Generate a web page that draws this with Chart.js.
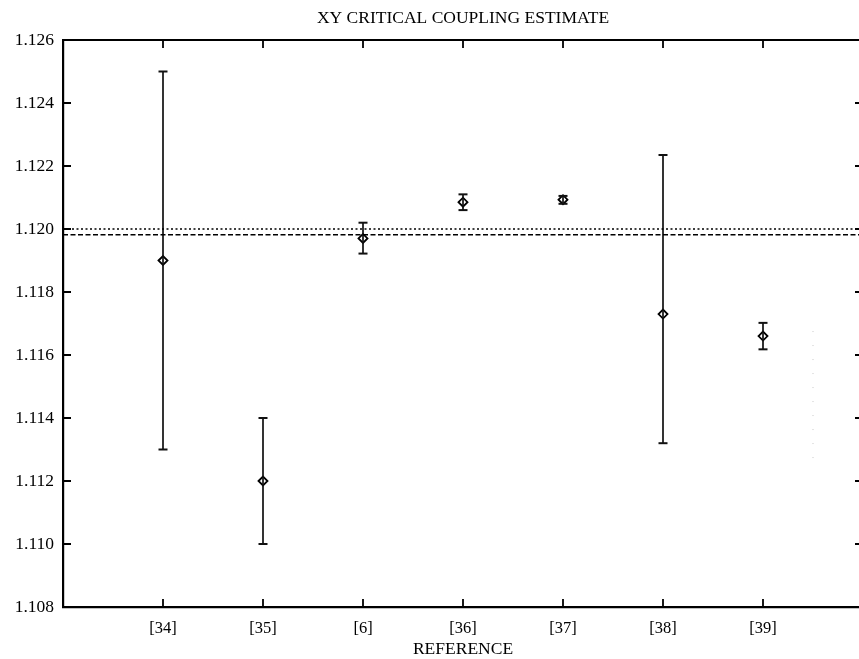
<!DOCTYPE html>
<html>
<head>
<meta charset="utf-8">
<script src="https://cdn.jsdelivr.net/npm/chart.js@4/dist/chart.umd.min.js"></script>
<style>
    html, body { margin: 0; padding: 0; background: #fff; overflow: hidden; }
    #wrap { width: 926px; height: 659px; }
</style>
</head>
<body>
<div id="wrap"><canvas id="chart" width="926" height="659"></canvas></div>
<script>
// references on the x axis (positions 1..7)
const refs = ["[34]", "[35]", "[6]", "[36]", "[37]", "[38]", "[39]"];
const estimate = [1.1190, 1.1120, 1.1197, 1.12085, 1.12093, 1.1173, 1.1166];
const errHigh = [1.1250, 1.1140, 1.1202, 1.1211, 1.12105, 1.12235, 1.11702];
const errLow = [1.1130, 1.1100, 1.11922, 1.1206, 1.1208, 1.1132, 1.11618];

// horizontal reference lines
const dottedLevel = 1.1200;
const dashedLevel = 1.11982;

// faint dotted trace near the right edge of the scan
const faintX = 7.5;
const faintRange = [1.11676, 1.11251];

const yTicks = [1.108, 1.110, 1.112, 1.114, 1.116, 1.118, 1.120, 1.122, 1.124, 1.126];

const FONT = "'Liberation Serif', 'DejaVu Serif', serif";

// error bars: one line dataset, pairs separated by a null gap
const errData = [];
refs.forEach((r, i) => {
    errData.push({ x: i + 1, y: errLow[i] });
    errData.push({ x: i + 1, y: errHigh[i] });
    errData.push({ x: i + 1, y: null });
});

const frameTicks = {
    id: "frameTicks",
    afterDraw(chart) {
        const { ctx, chartArea: a, scales } = chart;
        ctx.save();
        ctx.strokeStyle = "#000";
        ctx.lineWidth = 2;
        // top and right frame
        ctx.beginPath();
        ctx.moveTo(a.left, a.top);
        ctx.lineTo(a.right, a.top);
        ctx.lineTo(a.right, a.bottom);
        ctx.stroke();
        // inward ticks
        ctx.lineWidth = 1.8;
        const len = 8;
        scales.x.ticks.forEach((t) => {
            const px = scales.x.getPixelForValue(t.value);
            ctx.beginPath();
            ctx.moveTo(px, a.bottom);
            ctx.lineTo(px, a.bottom - len);
            ctx.moveTo(px, a.top);
            ctx.lineTo(px, a.top + len);
            ctx.stroke();
        });
        scales.y.ticks.forEach((t) => {
            const py = scales.y.getPixelForValue(t.value);
            ctx.beginPath();
            ctx.moveTo(a.left, py);
            ctx.lineTo(a.left + len, py);
            ctx.moveTo(a.right, py);
            ctx.lineTo(a.right - len, py);
            ctx.stroke();
        });
        ctx.restore();
    },
};

new Chart(document.getElementById("chart"), {
    type: "line",
    data: {
        datasets: [
            {
                data: [{ x: 0, y: dottedLevel }, { x: 8, y: dottedLevel }],
                borderColor: "#000",
                borderWidth: 1.5,
                borderDash: [2, 2.5],
                pointRadius: 0,
            },
            {
                data: [{ x: 0, y: dashedLevel }, { x: 8, y: dashedLevel }],
                borderColor: "#000",
                borderWidth: 1.5,
                borderDash: [5, 2.5],
                pointRadius: 0,
            },
            {
                data: [{ x: faintX, y: faintRange[0] }, { x: faintX, y: faintRange[1] }],
                borderColor: "#c8c8c8",
                borderWidth: 1,
                borderDash: [1, 13],
                pointRadius: 0,
            },
            {
                data: errData,
                borderColor: "#111",
                borderWidth: 1.7,
                spanGaps: false,
                pointStyle: "line",
                pointRadius: 4.5,
                pointBorderWidth: 2,
                pointBorderColor: "#111",
            },
            {
                data: estimate.map((v, i) => ({ x: i + 1, y: v })),
                showLine: false,
                pointStyle: "rectRot",
                pointRadius: 4.5,
                pointBackgroundColor: "#fff",
                pointBorderColor: "#000",
                pointBorderWidth: 1.8,
            },
        ],
    },
    options: {
        responsive: false,
        animation: false,
        layout: { padding: 0 },
        scales: {
            x: {
                type: "linear",
                min: 0,
                max: 8,
                afterBuildTicks: (scale) => {
                    scale.ticks = refs.map((r, i) => ({ value: i + 1 }));
                },
                afterFit: (scale) => {
                    scale.height = 52;
                },
                ticks: {
                    callback: (value) => refs[value - 1],
                    color: "#000",
                    font: { family: FONT, size: 16.5 },
                    padding: 12,
                    maxRotation: 0,
                    autoSkip: false,
                },
                grid: { display: false, drawTicks: false },
                border: { display: true, color: "#000", width: 2.2 },
                title: {
                    display: true,
                    text: "REFERENCE",
                    color: "#000",
                    font: { family: FONT, size: 17.5, lineHeight: 1 },
                    padding: { top: 0, bottom: 1 },
                },
            },
            y: {
                min: 1.108,
                max: 1.126,
                afterBuildTicks: (scale) => {
                    scale.ticks = yTicks.map((v) => ({ value: v }));
                },
                afterFit: (scale) => {
                    scale.width = 63;
                },
                ticks: {
                    callback: (value) => value.toFixed(3),
                    color: "#000",
                    font: { family: FONT, size: 17.5 },
                    padding: 9,
                },
                grid: { display: false, drawTicks: false },
                border: { display: true, color: "#000", width: 2.2 },
            },
            // empty right axis so the title centres on the plot area
            yRight: {
                position: "right",
                display: true,
                afterFit: (scale) => {
                    scale.width = 63;
                },
                ticks: { display: false },
                grid: { display: false, drawTicks: false },
                border: { display: false },
            },
        },
        plugins: {
            legend: { display: false },
            tooltip: { enabled: false },
            title: {
                display: true,
                text: "XY CRITICAL COUPLING ESTIMATE",
                color: "#000",
                font: { family: FONT, size: 17.5, weight: "normal", lineHeight: 1 },
                padding: { top: 10, bottom: 12.5 },
            },
        },
    },
    plugins: [frameTicks],
});
</script>
</body>
</html>
